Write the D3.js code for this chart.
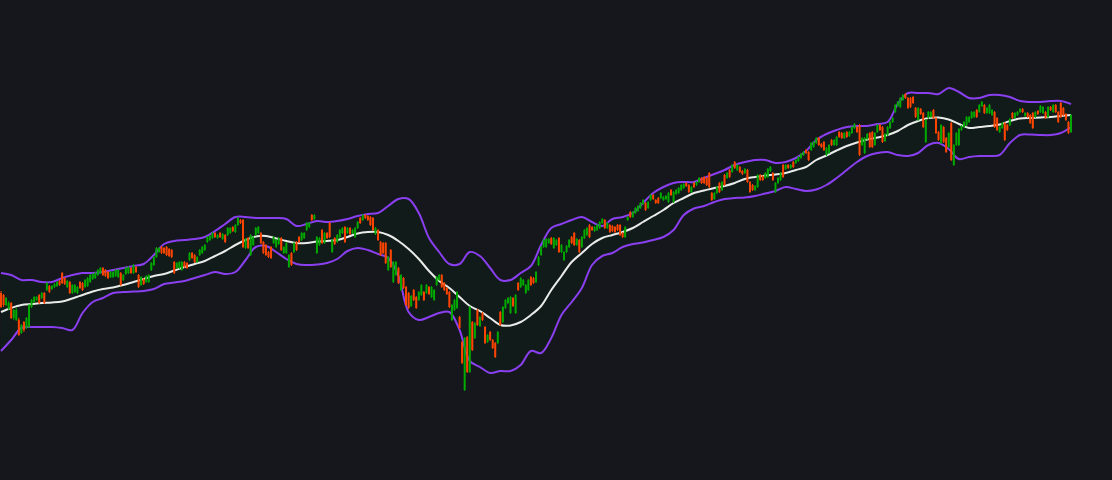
<!DOCTYPE html>
<html><head><meta charset="utf-8">
<script src="https://cdn.jsdelivr.net/npm/d3@7"></script>
<style>html,body{margin:0;padding:0;background:#16171c;overflow:hidden}svg{display:block}</style>
</head><body><svg id="chart" width="1112" height="480"></svg>
<script>
// ---- OHLC series (one candle per trading day) ----
const open = [
103.5,102.5,97.5,95.5,98.5,91,90,90,83.5,89,86,86.5,96.5,99,100,102.5,101,103.5,105,107,
105.5,106.5,107,109.5,113.5,111,106.5,109,103.5,104,103.5,109,108.5,106.5,107,109,110.5,111,112.5,113.5,
116,115,114,111.5,111.5,112,111.5,113.5,110,113,113.5,116,113.5,116.5,112.5,107.5,110.5,109,109,115,
117.5,121.5,124,126.5,126,126.5,125.5,125,119,116,116,115,119,118.5,120,123.5,122.5,119,122.5,
123.5,125,129,130,131,133.5,131,133.5,130.5,132.5,132.5,133.5,136.5,134,137.5,140,140,126,131,122.5,
127.5,132.5,133.5,133.5,129,127.5,124,126.5,128.5,126.5,128,131,123.5,123.5,116.5,123.5,124,129,131.5,130,
131,135,136.5,142.5,140.5,123.5,127.5,135,128.5,133.5,138.5,124,131,129,131.5,133.5,136.5,133.5,136,133.5,
131.5,136,141,140,142.5,142,141.5,141,133,135,129,128.5,128.5,115,125,109,112.5,116,105,
111,106.5,103.5,97,105,101.5,100,102.5,104,103.5,106.5,101.5,100,107.5,110,112.5,108.5,106,104,90,
95,96,91.5,79,55,81.5,64,89,81,95,87,93.5,86.5,79,84,80,78.5,78.5,94,89,
96,98.5,93.5,101,93.5,108.5,106.5,107.5,103.5,105,111.5,111,109,117.5,
122.5,126.5,126.5,128.5,131,126,127.5,131,124,120,124,126.5,131.5,133.5,127.5,130,126.5,131,132.5,137.5,
136.5,134.5,135,136,138.5,140,136,137.5,137,136.5,137.5,137.5,133.5,131.5,140,144,141.5,143.5,144.5,146,
148,148.5,146,150,152.5,150,151,151,150,150.5,149,155,149,153,153.5,155,156,158.5,157.5,154,
158.5,157.5,159,161,161.5,161,163.5,153.5,150.5,153.5,158.5,155,162.5,161,165,164,169,165,
166.5,164.5,163.5,165,159,157.5,155,156.5,162.5,162,161,161.5,164.5,163.5,154,158.5,160,167.5,165.5,167.5,
166,169,168.5,169.5,171,172.5,175,174,175,176.5,178.5,181,178,179,172.5,173.5,180,177.5,177.5,184,
183.5,181,184,182,183.5,186,186.5,187.5,177.5,173.5,180.5,183.5,184,177.5,184,187.5,186.5,179.5,182.5,
186,189,194,197,196.5,200,203,201,201,201.5,196,190,195.5,193.5,179,191,191.5,195,191,184,
178.5,186.5,181,176.5,188.5,167.5,177.5,177.5,185,186.5,187.5,189,191,191.5,195,194,197,197.5,193.5,193.5,
192.5,194,191,184,186,188.5,187.5,187.5,193.5,191,192.5,194,195.5,192,193.5,192.5,193.5,191.5,194.5,194,
193.5,194,191.5,196.5,194,197.5,194,198.5,196,193,189,184];
const high = [
104.5,103,101.5,99.5,99,95.5,96,91,88,89.5,91.5,98,100.5,102,102,103,104,104,109,107.5,
107.5,108.5,109.5,110,114,111.5,110,109.5,108,108,107,109.5,109,110.5,111.5,113,113.5,114,115.5,116.5,
116.5,115.5,114.5,114.5,114.5,115.5,115.5,114,113,116.5,117,116.5,118,117,113,112,111,112.5,113,119,
122,126.5,126.5,127,126.5,127,126,125.5,119.5,119,119.5,119.5,119.5,119,124,124,123,122,125.5,
127,128,132,132.5,134,134,133,134,133.5,133,136.5,136.5,137,138,141.5,140.5,140.5,131,131.5,133,
132,136.5,137,134,129.5,128,124.5,127,132,130.5,131.5,131.5,127,129,123,124,129,129.5,132,134,
134,139,139,143,143,132,131.5,135.5,134,134,139,130.5,131.5,133,135.5,136.5,137,136.5,136.5,135.5,
136.5,139.5,141.5,143,143,142.5,142,141.5,136.5,135.5,129.5,129,129,122,125.5,119.5,119.5,116.5,113,
111.5,107,104,102.5,105.5,102,104.5,108,104.5,108,107,107,105.5,112,113,113,109,106.5,104.5,98,
100.5,104.5,92,79.5,81.5,82,97,89.5,89,95.5,92,94,87,83,84.5,80.5,79,84.5,94.5,97,
100.5,101.5,102,101.5,103,109,111.5,110.5,108,110.5,112,111.5,114.5,122,
127,130.5,131,131,131.5,131.5,130.5,131.5,128,124.5,127.5,130.5,132,134,131,130.5,132,135.5,136.5,138,
137,137,138,139.5,141,140.5,139,138,137.5,137,138,138,134,137,142,144.5,144.5,146.5,147.5,149,
150.5,149,149.5,153,153,150.5,151.5,154,152,152.5,154,155.5,154.5,155.5,156.5,158,158.5,159,158,157,
159,159.5,161.5,161.5,162,161.5,164,154,154,157,159,159.5,163,164,165.5,168,169.5,168,
167,165,166,165.5,159.5,158,157.5,163,163,162.5,164,166,167,164,159,161.5,164,168,168,168,
168,169.5,170.5,172,173.5,174.5,175.5,174.5,179,179.5,181.5,181.5,178.5,179.5,176.5,178,180.5,180.5,182,184.5,
184,184,184.5,184.5,187,188.5,187,188,181.5,181.5,183.5,184,184.5,184,188,188,187,183.5,187,
189.5,191.5,198,199.5,201.5,203,203.5,201.5,201.5,202,196.5,196.5,196,194,190.5,194.5,194.5,195.5,191.5,184.5,
188,187,181.5,184,189,178,184,186,187.5,189.5,192,192,194.5,194.5,195.5,198,199.5,198,196.5,198,
195.5,194.5,191.5,187,189,189,188,191,194,194,194.5,196,196,194,194,193,194,194.5,195,197.5,
197,194.5,197,197,198,198,194.5,199,196.5,193.5,189.5,193];
const low = [
96,96.5,97,95,90.5,90,89.5,82,83,84,85.5,86,96,98.5,99.5,98,100.5,98,104.5,103.5,
105,106,106.5,107,108,107.5,106,103,103,103.5,103,105.5,104.5,106,106.5,108.5,110,110.5,112,113,
112,111.5,110.5,111,111,111.5,111,107,109.5,112.5,113,113,113,113.5,106,107,107.5,108.5,108.5,114.5,
117,121,123.5,123,123,122,121.5,121,113,115.5,115.5,114.5,116,115.5,119.5,120.5,118.5,118.5,122,
123,124.5,128.5,129.5,130.5,131,130.5,131,130,128.5,132,133,134,133.5,137,138,126,125.5,125.5,122,
127,132,133,128,123,122,121,120.5,128,126,127.5,124.5,123,123,116,117,123.5,124.5,128.5,129.5,
130.5,134.5,136,139.5,140,123,127,128,128,130.5,131,123.5,127.5,128.5,131,133,128.5,133,132.5,133,
131,135.5,138,139.5,140.5,139.5,137,134.5,132.5,129.5,122,123,118,114.5,116,108.5,112,108,104.5,
105.5,97,95.5,96.5,99.5,95.5,99.5,102,99.5,103,102.5,101,99.5,107,109.5,106,104.5,102.5,96,89.5,
94.5,95.5,85.5,68,54.5,63.5,63.5,74.5,80.5,87,86.5,89.5,78,78.5,79.5,75.5,71,78,87,88.5,
95.5,98,93,96.5,93,104.5,106,107,103,104.5,107,108,108.5,117,
122,126,126,128,127.5,125.5,127,123.5,123.5,119.5,123.5,126,128,127,127,123.5,126,130.5,132,131,
134.5,134,134.5,135.5,138,135.5,135.5,133.5,134,133.5,134.5,132,131,131,139.5,141,141,143,144,145.5,
147.5,144.5,145.5,149.5,150,148,148,150.5,149.5,150,148.5,152,148.5,152.5,153,154.5,155.5,156.5,153.5,153.5,
156,157,158.5,158,158,157,156,149.5,150,153,153.5,154.5,157,160.5,161,163.5,165.5,164.5,
163.5,162.5,163,158.5,153.5,154.5,154.5,156,159.5,159.5,160.5,161,164,159.5,153.5,158,159.5,161,165,165.5,
165.5,166,168,169,170.5,172,173,169.5,174.5,176,178,177,176,174.5,172,173,177,177,177,181,
180.5,180.5,181,181.5,183,185.5,183.5,172,177,173,180,176,176,177,183.5,184.5,178.5,179,182,
185.5,188.5,193.5,196.5,196,199.5,200.5,195.5,196,198,191,189.5,192.5,186,178.5,190.5,191,190.5,183,179.5,
178,178.5,173.5,176,169.5,167,177,177,184.5,186,187,188.5,190.5,191,191,193.5,196.5,193,193,193,
192,186,184.5,183.5,185.5,179.5,184.5,187,190.5,190.5,192,193.5,193.5,191.5,191,188,185.5,191,192.5,193.5,
193,190.5,191,194.5,193.5,193.5,188.5,191,192,189.5,183,183.5];
const close = [
96.5,97.5,101,98.5,91,95,95,82.5,87.5,85,91,97.5,100,101.5,101.5,98.5,103.5,98.5,108.5,104,
107,108,109,107.5,108.5,108,109.5,103.5,107.5,107.5,106.5,106,105,110,111,112.5,113,113.5,115,116,
112.5,112,111,114,114,115,115,107.5,112.5,116,116.5,113.5,117.5,114,106.5,111.5,108,112,112.5,118.5,
121.5,126,126,123.5,123.5,122.5,122,121.5,113.5,118.5,119,119,116.5,116,123.5,121,119,121.5,125,
126.5,127.5,131.5,132,133.5,131.5,132.5,131.5,133,129,136,136,134.5,137.5,141,138.5,126.5,130.5,126,132.5,
131.5,136,136.5,128.5,123.5,122.5,121.5,121,131.5,130,131,125,126.5,128.5,122.5,117.5,128.5,125,129,133.5,
133.5,138.5,138.5,140,142.5,131.5,131,128.5,133.5,131,131.5,130,128,132.5,135,136,129,136,133,135,
136,139,138.5,142.5,141,140,137.5,135,136,130,122.5,123.5,118.5,121.5,116.5,119,119,108.5,112.5,
106,97.5,96,102,100,96,104,107.5,100,107.5,103,106.5,105,111.5,112.5,106.5,105,103,96.5,97.5,
100,104,86,68.5,81,64,96.5,75,88.5,87.5,91.5,90,78.5,82.5,80,76,71.5,84,87.5,96.5,
100,101,101.5,97,102.5,105,111,110,107.5,110,107.5,108.5,114,121.5,
126.5,130,130.5,130.5,128,131,130,124,127.5,124,127,130,128.5,127.5,130.5,124,131.5,135,136,131.5,
135,136.5,137.5,139,140.5,136,138.5,134,134.5,134,135,132.5,131.5,136.5,141.5,141.5,144,146,147,148.5,
150,145,149,152.5,150.5,148.5,148.5,153.5,151.5,152,153.5,152.5,154,155,156,157.5,158,157,154,156.5,
156.5,159,161,158.5,158.5,157.5,156.5,150,153.5,156.5,154,159,157.5,163.5,161.5,167.5,166,167.5,
164,163,165.5,159,154,155,157,162.5,160,160,163.5,165.5,166.5,160,158.5,161,163.5,161.5,167.5,166,
167.5,166.5,170,171.5,173,174,173.5,170,178.5,179,181,177.5,176.5,175,176,177.5,177.5,180,181.5,181.5,
181,183.5,181.5,184,186.5,188,184,172.5,181,181,183,176.5,176.5,183.5,187.5,185,179,183,186.5,
189,191,197.5,199,201,202.5,201,196,196.5,198.5,191.5,196,193,186.5,190,194,194,191,183.5,180,
187.5,179,174,183.5,170,177.5,183.5,185.5,187,189,191.5,191.5,194,194,191.5,197.5,199,193.5,196,197.5,
195,186.5,185,186.5,188.5,180,185,190.5,191,193.5,194,195.5,194,193.5,191.5,188.5,186,194,193,197,
196.5,191,196.5,195,197.5,194,189,191.5,192.5,190,183.5,192.5];

// ---- Bollinger bands, one value every 4 trading days ----
const bandStep = 4;
const upperBand = [
113.5,112.5,110,110,109,109,111,112.5,113.5,113.5,114,115,116,117,118,122.5,128,129.5,130,130.5,
131.5,134.5,138,141.5,141.5,141,141,141,140.5,137,138,139.5,139,139.5,140.5,142,143,143.5,147,150.5,
150.5,143.5,131,124,118,118,124,122,116,110,110,113.5,117,127.5,136,138,140,141.5,139,137,
140.5,141.5,143.5,148.5,153.5,156.5,158.5,159,159,161,163,165,167.5,169,170,170,168.5,169,171,174.5,
180,183,185,186.5,187,187,188,189,198,203.5,203.5,203.5,203,206,204,201,201,202.5,202.5,201.5,
199.5,199,199,199.5,199.5,198];
const middleBand = [
94,96,97.5,98,98.5,98.75,99.25,100.75,102.5,104.25,105.5,106.25,107.5,109,110.5,112,113,114.75,116.5,118,
119.5,122,124.5,127.5,130,131.75,132,130.75,129.5,128.5,128.5,129.25,129.5,130,131.5,133.25,134,134,132.5,129.5,
125.5,120.5,114.5,109.5,106,101.5,97,94.5,91,87.5,87.25,89,92.5,97,105,112,119,123.5,128,131,
132.5,134,136,139,142,145,148.5,151,153.5,154.75,156,157,158.5,160.5,161.5,162.25,162.75,163.5,165,166.5,
170,172.25,174.75,177,178.75,180.25,181.25,182.5,184.5,187.5,189.5,191,191.25,190.25,188,186,186.5,187,187.75,189.5,
190.75,191,191.25,191.5,192,192.5];
const lowerBand = [
74.5,80,86,86.5,86.5,86.5,86,85,93.5,99,101,103.5,104,104.25,104.5,105.5,108,108.75,109.5,111,
112.5,114,113,114,120,126.5,127,124,120.5,118,117.5,117.75,118.5,120.5,124.5,126,125,123,121,112,
94,90,91.5,93.5,94,85,69.5,66.5,63.5,64.5,64.5,67.5,74.5,73.5,81,92.5,99,106,117.5,122,
123.5,126.5,128,128.75,130,131.5,135,142.5,145.75,147,149,150.5,151,151.25,152,153.25,154.5,156.5,155.5,154.5,
155.25,157.5,161,165,169,172,173.5,174,172.5,172,173.5,177.5,178.5,175.5,170.5,171.5,172,172,172.5,178.5,
182.5,182.75,182.5,182.5,183.5,186.5];

const W = 1112, H = 480;
const svg = d3.select("#chart");
svg.append("rect").attr("width", W).attr("height", H).attr("fill", "#16171c");

const N = open.length;
const x = d3.scaleLinear().domain([0, N - 1]).range([1, 1071]);
const y = d3.scaleLinear().domain([10, 250]).range([H, 0]);

const bandIdx = d3.range(upperBand.length);
const bx = i => x(i * bandStep);
const curve = d3.curveCatmullRom.alpha(0.5);

svg.append("path").datum(bandIdx)
  .attr("d", d3.area().x(bx).y0(i => y(lowerBand[i])).y1(i => y(upperBand[i])).curve(curve))
  .attr("fill", "#111b19");

const line = arr => d3.line().x(bx).y(i => y(arr[i])).curve(curve);
svg.append("path").datum(bandIdx).attr("d", line(upperBand))
  .attr("fill", "none").attr("stroke", "#8a3ff0").attr("stroke-width", 2);
svg.append("path").datum(bandIdx).attr("d", line(lowerBand))
  .attr("fill", "none").attr("stroke", "#8a3ff0").attr("stroke-width", 2);
svg.append("path").datum(bandIdx).attr("d", line(middleBand))
  .attr("fill", "none").attr("stroke", "#e8ebe8").attr("stroke-width", 2);

const idx = d3.range(N);
const col = i => close[i] >= open[i] ? "#00a800" : "#ff4500";
const g = svg.append("g");
g.selectAll("line").data(idx).join("line")
  .attr("x1", i => x(i)).attr("x2", i => x(i))
  .attr("y1", i => y(high[i])).attr("y2", i => y(low[i]))
  .attr("stroke", col).attr("stroke-width", 1);
g.selectAll("rect").data(idx).join("rect")
  .attr("x", i => x(i) - 1).attr("width", 2)
  .attr("y", i => y(Math.max(open[i], close[i])))
  .attr("height", i => Math.max(1, Math.abs(y(open[i]) - y(close[i]))))
  .attr("fill", col);
</script></body></html>
